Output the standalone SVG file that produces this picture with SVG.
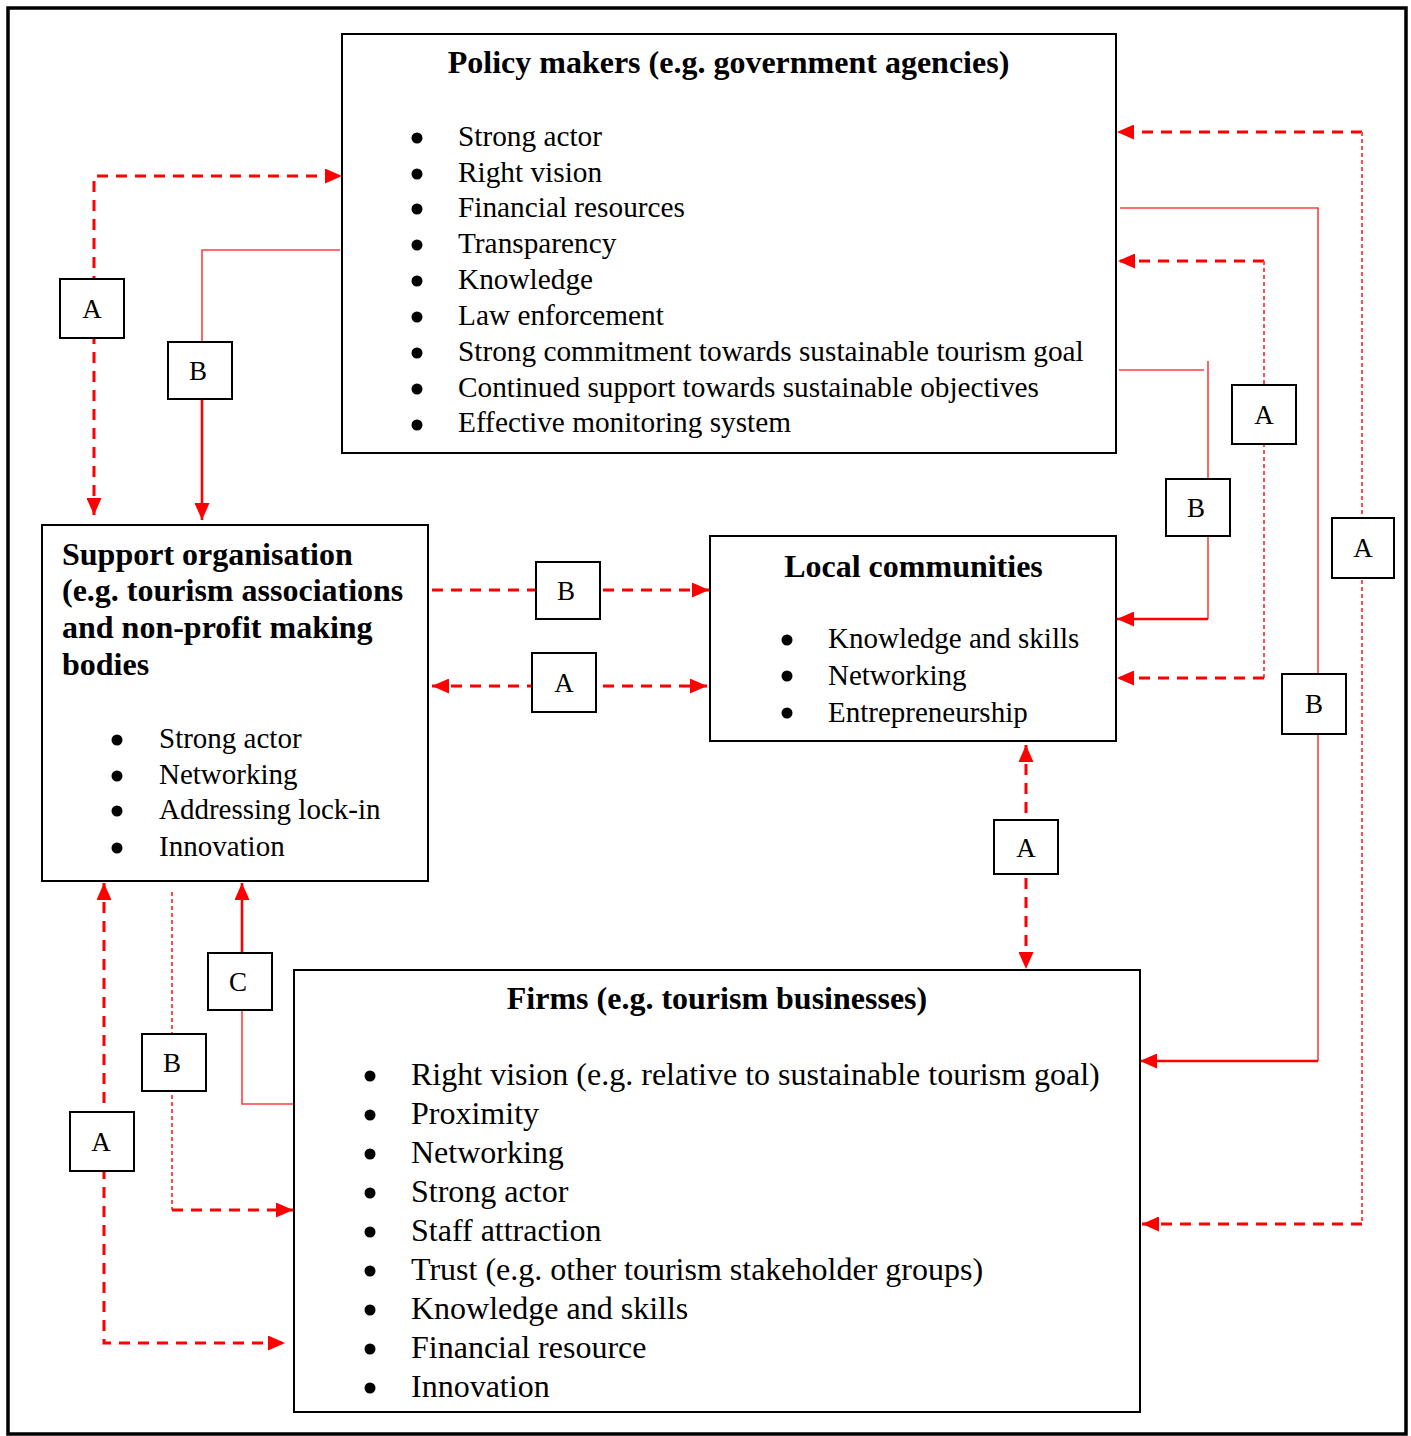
<svg xmlns="http://www.w3.org/2000/svg" width="1411" height="1436" viewBox="0 0 1411 1436">
<style>
.frame{fill:#fff;stroke:#000;stroke-width:3.5}
.box{fill:#fff;stroke:#000;stroke-width:2}
.lbl{fill:#fff;stroke:#000;stroke-width:2}
.dash{fill:none;stroke:#ff0000;stroke-width:3;stroke-dasharray:11 8}
.dot{fill:none;stroke:#ff4d4d;stroke-width:2;stroke-dasharray:4 3}
.thin{fill:none;stroke:#ff4040;stroke-width:1.6}
.thick{fill:none;stroke:#ff0000;stroke-width:2.6}
text{font-family:"Liberation Serif","Times New Roman",serif;fill:#000}
.t{font-size:32px;font-weight:bold}
.p{font-size:29.3px}
.s{font-size:29px}
.f{font-size:32px}
.l{font-size:27px;text-anchor:middle}
.b{fill:#000}
</style>
<defs>
<marker id="ah" markerUnits="userSpaceOnUse" markerWidth="17" markerHeight="15" refX="17" refY="7.5" orient="auto-start-reverse" viewBox="0 0 17 15">
<path d="M0,0 L17,7.5 L0,15 z" fill="#ff0000"/>
</marker>
</defs>
<rect class="frame" x="8" y="8" width="1398" height="1426"/>

<g id="connectors">
<!-- top-left A -->
<path class="dash" d="M94,515 V176 H342" marker-start="url(#ah)" marker-end="url(#ah)"/>
<!-- top-left B -->
<path class="thin" d="M340,250 H202 V342"/>
<path class="thick" d="M202,399 V520" marker-end="url(#ah)"/>
<!-- right outer A -->
<path class="dash" d="M1362,132 H1117" marker-end="url(#ah)"/>
<path class="dot" d="M1362,132 V1224"/>
<path class="dash" d="M1362,1224 H1142" marker-end="url(#ah)"/>
<!-- right outer B -->
<path class="thin" d="M1120,208 H1318 V1061"/>
<path class="thick" d="M1318,1061 H1140" marker-end="url(#ah)"/>
<!-- right inner A -->
<path class="dash" d="M1264,261 H1118" marker-end="url(#ah)"/>
<path class="dot" d="M1264,261 V678"/>
<path class="dash" d="M1264,678 H1117" marker-end="url(#ah)"/>
<!-- right inner B -->
<path class="thin" d="M1119,370 H1204"/>
<path class="thin" d="M1208,361 V619"/>
<path class="thick" d="M1208,619 H1117" marker-end="url(#ah)"/>
<!-- middle B -->
<path class="dash" d="M432,590 H709" marker-end="url(#ah)"/>
<!-- middle A -->
<path class="dash" d="M432,686 H707" marker-start="url(#ah)" marker-end="url(#ah)"/>
<!-- local-firms A -->
<path class="dash" d="M1026,745 V969" marker-start="url(#ah)" marker-end="url(#ah)"/>
<!-- bottom-left A -->
<path class="dash" d="M104,883 V1343 H285" marker-start="url(#ah)" marker-end="url(#ah)"/>
<!-- bottom-left B -->
<path class="dot" d="M172,892 V1210"/>
<path class="dash" d="M172,1210 H293" marker-end="url(#ah)"/>
<!-- C -->
<path class="thin" d="M293,1104 H242 V1010"/>
<path class="thick" d="M242,953 V883" marker-end="url(#ah)"/>

<g id="labels">
<rect class="lbl" x="60" y="279" width="64" height="59"/><text class="l" x="92" y="318">A</text>
<rect class="lbl" x="168" y="342" width="64" height="57"/><text class="l" x="198" y="380">B</text>
<rect class="lbl" x="1332" y="518" width="62" height="60"/><text class="l" x="1363" y="557">A</text>
<rect class="lbl" x="1282" y="674" width="64" height="60"/><text class="l" x="1314" y="713">B</text>
<rect class="lbl" x="1232" y="385" width="64" height="59"/><text class="l" x="1264" y="424">A</text>
<rect class="lbl" x="1166" y="479" width="64" height="57"/><text class="l" x="1196" y="517">B</text>
<rect class="lbl" x="536" y="562" width="64" height="57"/><text class="l" x="566" y="600">B</text>
<rect class="lbl" x="532" y="653" width="64" height="59"/><text class="l" x="564" y="692">A</text>
<rect class="lbl" x="994" y="820" width="64" height="54"/><text class="l" x="1026" y="857">A</text>
<rect class="lbl" x="70" y="1112" width="64" height="59"/><text class="l" x="101" y="1151">A</text>
<rect class="lbl" x="142" y="1034" width="64" height="57"/><text class="l" x="172" y="1072">B</text>
<rect class="lbl" x="208" y="953" width="64" height="57"/><text class="l" x="238" y="991">C</text>
</g>
</g>

<g id="policy">
<rect class="box" x="342" y="34" width="774" height="419"/>
<text class="t" x="728.5" y="73" text-anchor="middle">Policy makers (e.g. government agencies)</text>
<circle class="b" cx="417" cy="138" r="5.5"/><text class="p" x="458" y="146">Strong actor</text>
<circle class="b" cx="417" cy="174" r="5.5"/><text class="p" x="458" y="182">Right vision</text>
<circle class="b" cx="417" cy="209" r="5.5"/><text class="p" x="458" y="217">Financial resources</text>
<circle class="b" cx="417" cy="245" r="5.5"/><text class="p" x="458" y="253">Transparency</text>
<circle class="b" cx="417" cy="281" r="5.5"/><text class="p" x="458" y="289">Knowledge</text>
<circle class="b" cx="417" cy="317" r="5.5"/><text class="p" x="458" y="325">Law enforcement</text>
<circle class="b" cx="417" cy="353" r="5.5"/><text class="p" x="458" y="361">Strong commitment towards sustainable tourism goal</text>
<circle class="b" cx="417" cy="389" r="5.5"/><text class="p" x="458" y="397">Continued support towards sustainable objectives</text>
<circle class="b" cx="417" cy="425" r="5.5"/><text class="p" x="458" y="432">Effective monitoring system</text>
</g>

<g id="support">
<rect class="box" x="42" y="525" width="386" height="356"/>
<text class="t" x="62" y="565">Support organisation</text>
<text class="t" x="62" y="601">(e.g. tourism associations</text>
<text class="t" x="62" y="638">and non-profit making</text>
<text class="t" x="62" y="675">bodies</text>
<circle class="b" cx="117" cy="740" r="5.5"/><text class="s" x="159" y="748">Strong actor</text>
<circle class="b" cx="117" cy="776" r="5.5"/><text class="s" x="159" y="784">Networking</text>
<circle class="b" cx="117" cy="811" r="5.5"/><text class="s" x="159" y="819">Addressing lock-in</text>
<circle class="b" cx="117" cy="848" r="5.5"/><text class="s" x="159" y="856">Innovation</text>
</g>

<g id="local">
<rect class="box" x="710" y="536" width="406" height="205"/>
<text class="t" x="913.5" y="577" text-anchor="middle">Local communities</text>
<circle class="b" cx="787" cy="640" r="5.5"/><text class="s" x="828" y="648">Knowledge and skills</text>
<circle class="b" cx="787" cy="676" r="5.5"/><text class="s" x="828" y="685">Networking</text>
<circle class="b" cx="787" cy="713" r="5.5"/><text class="s" x="828" y="722">Entrepreneurship</text>
</g>

<g id="firms">
<rect class="box" x="294" y="970" width="846" height="442"/>
<text class="t" x="717" y="1009" text-anchor="middle">Firms (e.g. tourism businesses)</text>
<circle class="b" cx="370" cy="1076" r="5.5"/><text class="f" x="411" y="1085">Right vision (e.g. relative to sustainable tourism goal)</text>
<circle class="b" cx="370" cy="1115" r="5.5"/><text class="f" x="411" y="1124">Proximity</text>
<circle class="b" cx="370" cy="1154" r="5.5"/><text class="f" x="411" y="1163">Networking</text>
<circle class="b" cx="370" cy="1193" r="5.5"/><text class="f" x="411" y="1202">Strong actor</text>
<circle class="b" cx="370" cy="1232" r="5.5"/><text class="f" x="411" y="1241">Staff attraction</text>
<circle class="b" cx="370" cy="1271" r="5.5"/><text class="f" x="411" y="1280">Trust (e.g. other tourism stakeholder groups)</text>
<circle class="b" cx="370" cy="1310" r="5.5"/><text class="f" x="411" y="1319">Knowledge and skills</text>
<circle class="b" cx="370" cy="1349" r="5.5"/><text class="f" x="411" y="1358">Financial resource</text>
<circle class="b" cx="370" cy="1388" r="5.5"/><text class="f" x="411" y="1397">Innovation</text>
</g>
</svg>
